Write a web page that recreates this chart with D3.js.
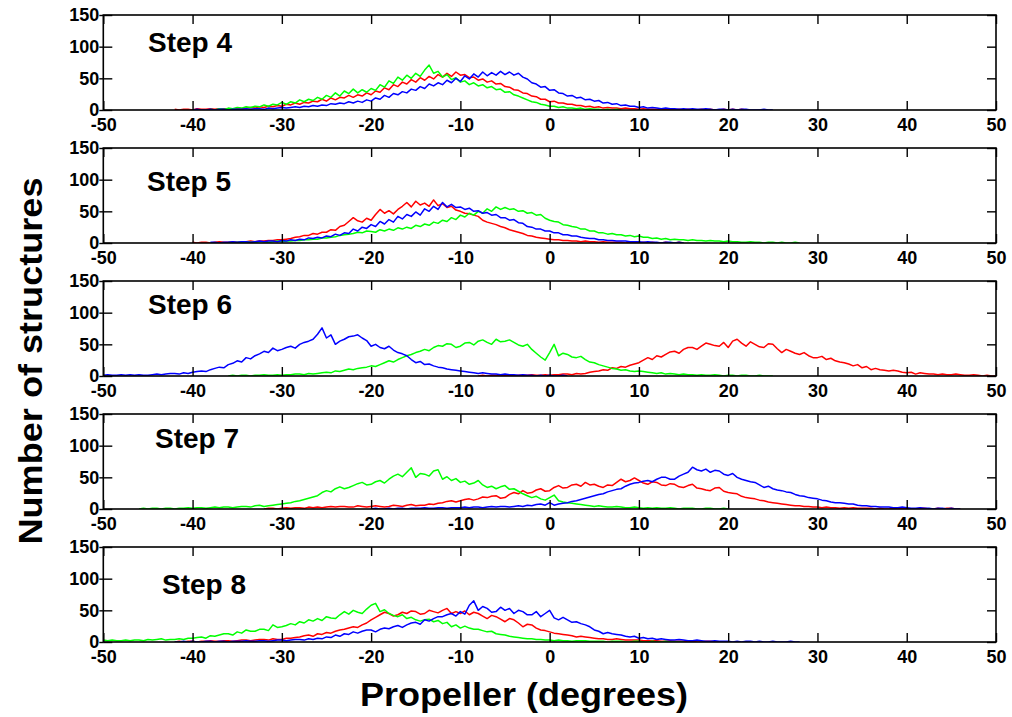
<!DOCTYPE html>
<html>
<head>
<meta charset="utf-8">
<script src="https://cdn.jsdelivr.net/npm/d3@7"></script>
<style>
  body { margin: 0; background: #fff; }
  svg { display: block; font-family: "Liberation Sans", Arial, sans-serif; font-weight: bold; }
</style>
</head>
<body>
<svg width="1012" height="717"></svg>
<script>
// histogram bins are 0.5 degree wide, each series starts at its own bin
const binStep = 0.5;
const xTicks = [-50, -40, -30, -20, -10, 0, 10, 20, 30, 40, 50];
const yTicks = [0, 50, 100, 150];
const stepLabels = ["Step 4", "Step 5", "Step 6", "Step 7", "Step 8"];
const seriesColors = ["#ff0000", "#00ff00", "#0000ff"]; // red, green, blue

// ---- Step 4 ----  starts: red, green, blue
const step4Start = [-42, -38, -40];
const step4Red = [1,0,1,1,0,2,1,1,2,1,2,2,2,1,3,2,3,4,3,5,4,6,5,7,6,9,8,11,9,12,11,14,13,17,14,19,16,20,19,23,20,24,22,27,24,30,28,35,32,40,37,44,41,48,44,51,47,53,49,56,52,58,53,60,55,56,51,52,47,49,44,46,41,42,37,36,32,31,27,26,22,21,17,17,13,14,11,11,9,9,7,7,5,6,4,5,3,4,3,3,2,3,2,2,1,2,1,1,1,0,1,1,0,1,0,1,0,0,1,0,1,0,0,1,0,1,0,1,0];
const step4Green = [1,0,2,1,3,2,4,3,5,4,6,5,8,6,9,8,12,9,13,11,16,13,17,15,20,17,23,20,27,22,30,26,33,27,32,28,34,31,40,36,46,42,52,47,55,50,58,53,63,71,58,61,52,56,48,51,44,46,40,43,38,40,35,37,32,33,28,29,24,22,19,16,13,12,9,8,6,6,4,5,3,3,2,3,1,2,1,1,0,1,0,1,0];
const step4Blue = [0,1,0,0,1,0,1,1,0,1,1,1,2,1,2,2,1,3,2,3,4,3,4,5,4,6,5,7,6,8,7,10,9,11,10,13,11,14,12,16,14,19,17,23,20,26,24,29,27,33,31,37,34,41,38,43,40,47,43,50,45,54,49,57,52,60,54,59,55,61,56,60,55,58,52,49,43,41,36,37,31,32,27,26,22,23,19,20,16,17,14,15,11,12,9,10,7,8,6,6,4,5,3,4,3,2,3,2,2,1,2,1,2,1,1,2,1,0,1,1,0,1,0,1,1,0,0,0,1,0,0];

// ---- Step 5 ----
const step5Start = [-40, -36, -38];
const step5Red = [1,0,1,1,0,1,2,1,1,2,1,2,2,3,2,3,3,4,4,5,5,6,7,9,10,12,12,15,14,17,17,21,20,26,28,34,40,35,33,39,36,45,53,47,51,46,53,58,64,57,66,60,63,58,68,59,62,56,58,52,50,47,46,44,42,36,33,31,29,26,24,21,19,17,15,12,11,9,8,7,6,5,5,4,4,3,3,2,3,2,2,1,2,1,1,1,1,0,1,1,0,1,0,1,0,0,1,0,0,1,0];
const step5Green = [1,0,1,1,2,1,1,2,2,1,2,3,2,3,3,4,4,5,5,6,6,8,8,9,10,12,13,14,15,17,16,19,18,17,21,19,22,20,24,22,25,23,28,26,30,28,33,31,36,34,40,37,44,41,47,44,50,47,54,50,57,53,56,53,54,50,51,47,48,44,45,39,36,34,33,29,28,26,25,22,22,19,19,16,16,14,15,13,13,11,12,10,11,9,9,7,8,6,7,5,6,5,5,4,5,4,4,3,4,3,3,2,3,2,2,1,1,2,1,1,0,1,1,0,1,0,0,1,0];
const step5Blue = [1,1,0,1,1,2,1,2,2,1,2,3,2,3,3,2,4,3,5,4,6,5,8,7,9,8,11,10,14,12,16,15,22,19,25,23,29,26,34,30,37,33,42,38,45,42,49,44,54,50,58,53,64,57,61,56,57,53,55,50,51,47,48,44,45,40,40,36,37,32,31,26,25,22,22,19,19,16,16,13,13,11,11,9,8,7,7,5,5,4,4,3,3,3,2,2,2,1,2,1,1,0,1,1,0,1,0];

// ---- Step 6 ----
const step6Start = [-8, -36, -50];
const step6Red = [0,1,0,1,1,0,1,1,0,1,1,1,2,1,1,2,1,2,2,3,3,2,4,3,4,6,7,8,10,9,13,12,15,14,17,19,21,25,29,26,32,30,34,38,39,36,42,45,45,42,47,52,50,48,47,53,45,55,58,52,47,54,50,46,45,51,50,43,37,42,39,36,34,37,32,29,29,31,26,28,24,22,21,19,16,18,13,15,10,12,10,9,8,9,8,6,5,6,3,5,4,3,3,2,3,2,2,3,2,1,1,2,1,0,1,0,0];
const step6Green = [0,1,0,1,1,0,1,1,2,1,1,2,1,2,2,3,3,2,4,3,4,5,6,5,8,7,9,11,10,12,13,14,16,15,18,21,24,22,26,29,32,34,37,39,42,40,45,48,47,51,50,45,47,52,53,49,55,57,53,50,58,54,55,57,53,49,47,50,42,36,30,25,37,50,32,36,34,30,29,31,26,22,21,18,16,14,12,11,9,10,8,7,8,7,6,5,4,5,3,4,3,2,3,2,2,1,2,1,1,2,1,0,1,1,0,1,1,0,0,1,0,0,0];
const step6Blue = [1,2,1,1,2,1,2,1,2,1,1,2,3,2,3,4,4,3,5,4,6,7,8,7,10,12,14,13,18,20,24,22,29,27,32,35,39,37,44,40,42,45,47,44,50,53,55,58,66,76,60,65,50,55,58,62,63,65,60,56,47,50,45,43,47,41,37,35,32,26,21,23,18,19,16,14,13,11,10,9,8,7,6,5,4,5,4,3,3,2,3,2,2,1,2,1,1,0,1,0,1,0,0,1,0];

// ---- Step 7 ----
const step7Start = [-32, -46, -20];
const step7Red = [0,1,1,0,1,2,1,2,2,1,3,2,3,2,3,4,3,4,4,3,3,5,4,3,4,5,4,3,4,6,5,4,6,7,5,6,6,8,7,9,10,12,13,11,13,15,16,14,16,19,18,20,21,17,18,23,26,24,29,25,26,30,32,28,29,34,37,33,34,38,39,36,42,38,39,36,34,38,37,42,47,43,45,49,45,41,39,43,42,38,37,40,39,35,34,37,39,33,32,30,29,33,34,28,26,25,24,20,18,17,16,14,13,11,10,9,8,7,6,5,5,4,4,3,3,2,3,2,2,1,2,1,2,1,1,1,1,0,1,0,0,1,0,1,1,0,0,1,1,0,0,1,0,1,1,0,0];
const step7Green = [0,1,0,1,1,0,1,1,0,1,1,2,1,2,2,1,2,3,2,3,3,2,3,4,4,3,5,6,4,5,6,7,8,9,10,12,13,15,17,19,21,26,29,27,32,35,32,34,37,40,42,38,39,43,45,41,47,52,55,51,58,65,50,56,55,52,60,62,47,51,45,48,42,44,39,41,45,38,34,36,32,35,37,31,32,28,24,21,18,20,16,14,18,22,13,11,10,9,8,7,6,5,4,5,4,3,3,4,3,2,2,3,2,1,2,1,2,1,1,2,1,0,1,1,1,0,0,1,1,0,0,1,0];
const step7Blue = [0,1,0,0,1,0,1,1,0,1,1,1,2,1,1,2,2,1,2,2,2,3,2,3,3,2,3,4,3,4,4,3,4,5,4,6,5,7,8,6,10,6,8,9,10,12,13,15,17,19,21,23,24,27,29,31,32,36,39,41,42,44,45,43,47,50,50,47,47,52,55,58,66,62,60,63,58,61,60,55,53,56,50,47,45,43,42,38,34,36,32,30,29,27,26,23,21,20,18,17,16,14,13,11,10,10,9,8,8,6,5,5,4,4,3,3,3,2,2,3,2,1,1,2,1,1,0,1,1,0,1,0,0];

// ---- Step 8 ----
const step8Start = [-42, -50, -42];
const step8Red = [0,1,0,1,1,0,1,1,2,1,1,2,2,1,2,3,3,2,3,4,4,3,5,4,4,6,6,7,8,10,11,9,13,12,15,14,17,19,20,22,24,23,27,30,35,39,43,47,45,41,43,47,45,49,48,44,45,50,48,46,50,53,45,48,45,49,43,47,45,41,37,42,40,36,32,37,35,30,24,28,27,22,19,18,16,14,13,12,11,10,8,9,8,7,6,5,5,4,4,5,4,3,3,3,3,2,2,2,2,1,1,2,1,1,1,0,1,0,0,1,1,0,0,0,0];
const step8Green = [3,2,3,2,2,3,2,3,3,2,4,3,4,5,3,4,4,5,4,6,6,7,8,6,10,9,11,13,13,11,16,14,19,17,17,20,20,18,27,23,24,26,29,27,32,30,35,33,37,34,40,38,37,43,48,44,50,47,45,52,58,61,48,51,45,42,40,43,37,39,35,33,35,36,32,34,29,31,24,27,22,25,22,20,20,18,16,17,13,12,11,9,8,7,6,5,5,4,4,3,3,2,3,2,2,1,2,2,2,1,1,1,1,0,1,1,1,0,0,1,1,0,0,1,0,0,1,0,0,0,0];
const step8Blue = [0,0,1,0,1,0,0,1,1,0,1,1,0,1,1,1,2,1,1,2,2,1,2,3,3,2,3,4,4,3,5,4,6,5,8,7,11,9,13,12,16,14,17,19,19,16,20,22,21,24,26,23,27,30,31,28,35,33,37,40,40,43,45,41,48,44,58,65,50,56,53,47,48,55,50,53,45,50,48,43,43,48,40,45,50,38,35,39,35,31,32,29,27,24,19,17,13,15,13,12,11,9,8,9,6,7,5,6,4,5,4,3,3,4,3,2,2,3,2,1,1,2,1,1,1,0,1,0,1,1,0,1,0,0,1,0,0,0,1,0,0];

const panels = [
  { label: stepLabels[0], starts: step4Start, series: [step4Red, step4Green, step4Blue] },
  { label: stepLabels[1], starts: step5Start, series: [step5Red, step5Green, step5Blue] },
  { label: stepLabels[2], starts: step6Start, series: [step6Red, step6Green, step6Blue] },
  { label: stepLabels[3], starts: step7Start, series: [step7Red, step7Green, step7Blue] },
  { label: stepLabels[4], starts: step8Start, series: [step8Red, step8Green, step8Blue] }
];

// layout
const plotLeft = 103.3, plotRight = 996;
const panelTop0 = 15, panelPitch = 133, panelH = 95;
const labelX = [148, 147, 148, 155, 162];
const labelBase = [37, 43, 33, 34, 47];

const svg = d3.select("svg");

const x = d3.scaleLinear().domain([-50, 50]).range([plotLeft, plotRight]);
const y = d3.scaleLinear().domain([0, 150]).range([panelH, 0]);

svg.append("defs").append("clipPath")
    .attr("id", "plotClip")
  .append("rect")
    .attr("x", plotLeft)
    .attr("y", 0)
    .attr("width", plotRight - plotLeft)
    .attr("height", panelH);

const line = d3.line()
    .x(d => x(d[0]))
    .y(d => y(d[1]));

function styleAxis(g) {
    g.attr("font-size", 18)
     .attr("font-family", null)
     .attr("font-weight", "bold");
    g.select(".domain").remove();
    g.selectAll(".tick line").attr("stroke-width", 1.4);
    g.selectAll(".tick text").attr("fill", "#000");
}

panels.forEach((p, i) => {
    const g = svg.append("g")
        .attr("transform", `translate(0, ${panelTop0 + i * panelPitch})`);

    const lines = g.append("g").attr("clip-path", "url(#plotClip)");
    p.series.forEach((vals, k) => {
        const pts = vals.map((v, j) => [p.starts[k] + j * binStep, v]);
        lines.append("path")
            .datum(pts)
            .attr("d", line)
            .attr("fill", "none")
            .attr("stroke", seriesColors[k])
            .attr("stroke-width", 1.5)
            .attr("stroke-linejoin", "round");
    });

    // bottom ticks + labels (ticks point inward)
    g.append("g")
        .attr("transform", `translate(0, ${panelH})`)
        .call(d3.axisBottom(x).tickValues(xTicks).tickSize(-9).tickPadding(8)
            .tickFormat(d => String(d)))
        .call(styleAxis);

    // top ticks
    g.append("g")
        .call(d3.axisTop(x).tickValues(xTicks).tickSize(-9).tickFormat(""))
        .call(styleAxis);

    // left: labels with short outer tick, then inner tick
    g.append("g")
        .attr("transform", `translate(${plotLeft}, 0)`)
        .call(d3.axisLeft(y).tickValues(yTicks).tickSize(4).tickPadding(0)
            .tickFormat(d => String(d)))
        .call(styleAxis);
    g.append("g")
        .attr("transform", `translate(${plotLeft}, 0)`)
        .call(d3.axisLeft(y).tickValues(yTicks).tickSize(-9).tickFormat(""))
        .call(styleAxis);

    // right ticks
    g.append("g")
        .attr("transform", `translate(${plotRight}, 0)`)
        .call(d3.axisRight(y).tickValues(yTicks).tickSize(-9).tickFormat(""))
        .call(styleAxis);

    g.append("rect")
        .attr("x", plotLeft)
        .attr("y", 0)
        .attr("width", plotRight - plotLeft)
        .attr("height", panelH)
        .attr("fill", "none")
        .attr("stroke", "#000")
        .attr("stroke-width", 1.6);

    g.append("text")
        .attr("x", labelX[i])
        .attr("y", labelBase[i])
        .attr("font-size", 28)
        .text(p.label);
});

svg.append("text")
    .attr("transform", "translate(42, 361) rotate(-90)")
    .attr("text-anchor", "middle")
    .attr("font-size", 33)
    .attr("textLength", 367)
    .attr("lengthAdjust", "spacingAndGlyphs")
    .text("Number of structures");

svg.append("text")
    .attr("x", 524)
    .attr("y", 706)
    .attr("text-anchor", "middle")
    .attr("font-size", 33)
    .attr("textLength", 328)
    .attr("lengthAdjust", "spacingAndGlyphs")
    .text("Propeller (degrees)");
</script>
</body>
</html>
